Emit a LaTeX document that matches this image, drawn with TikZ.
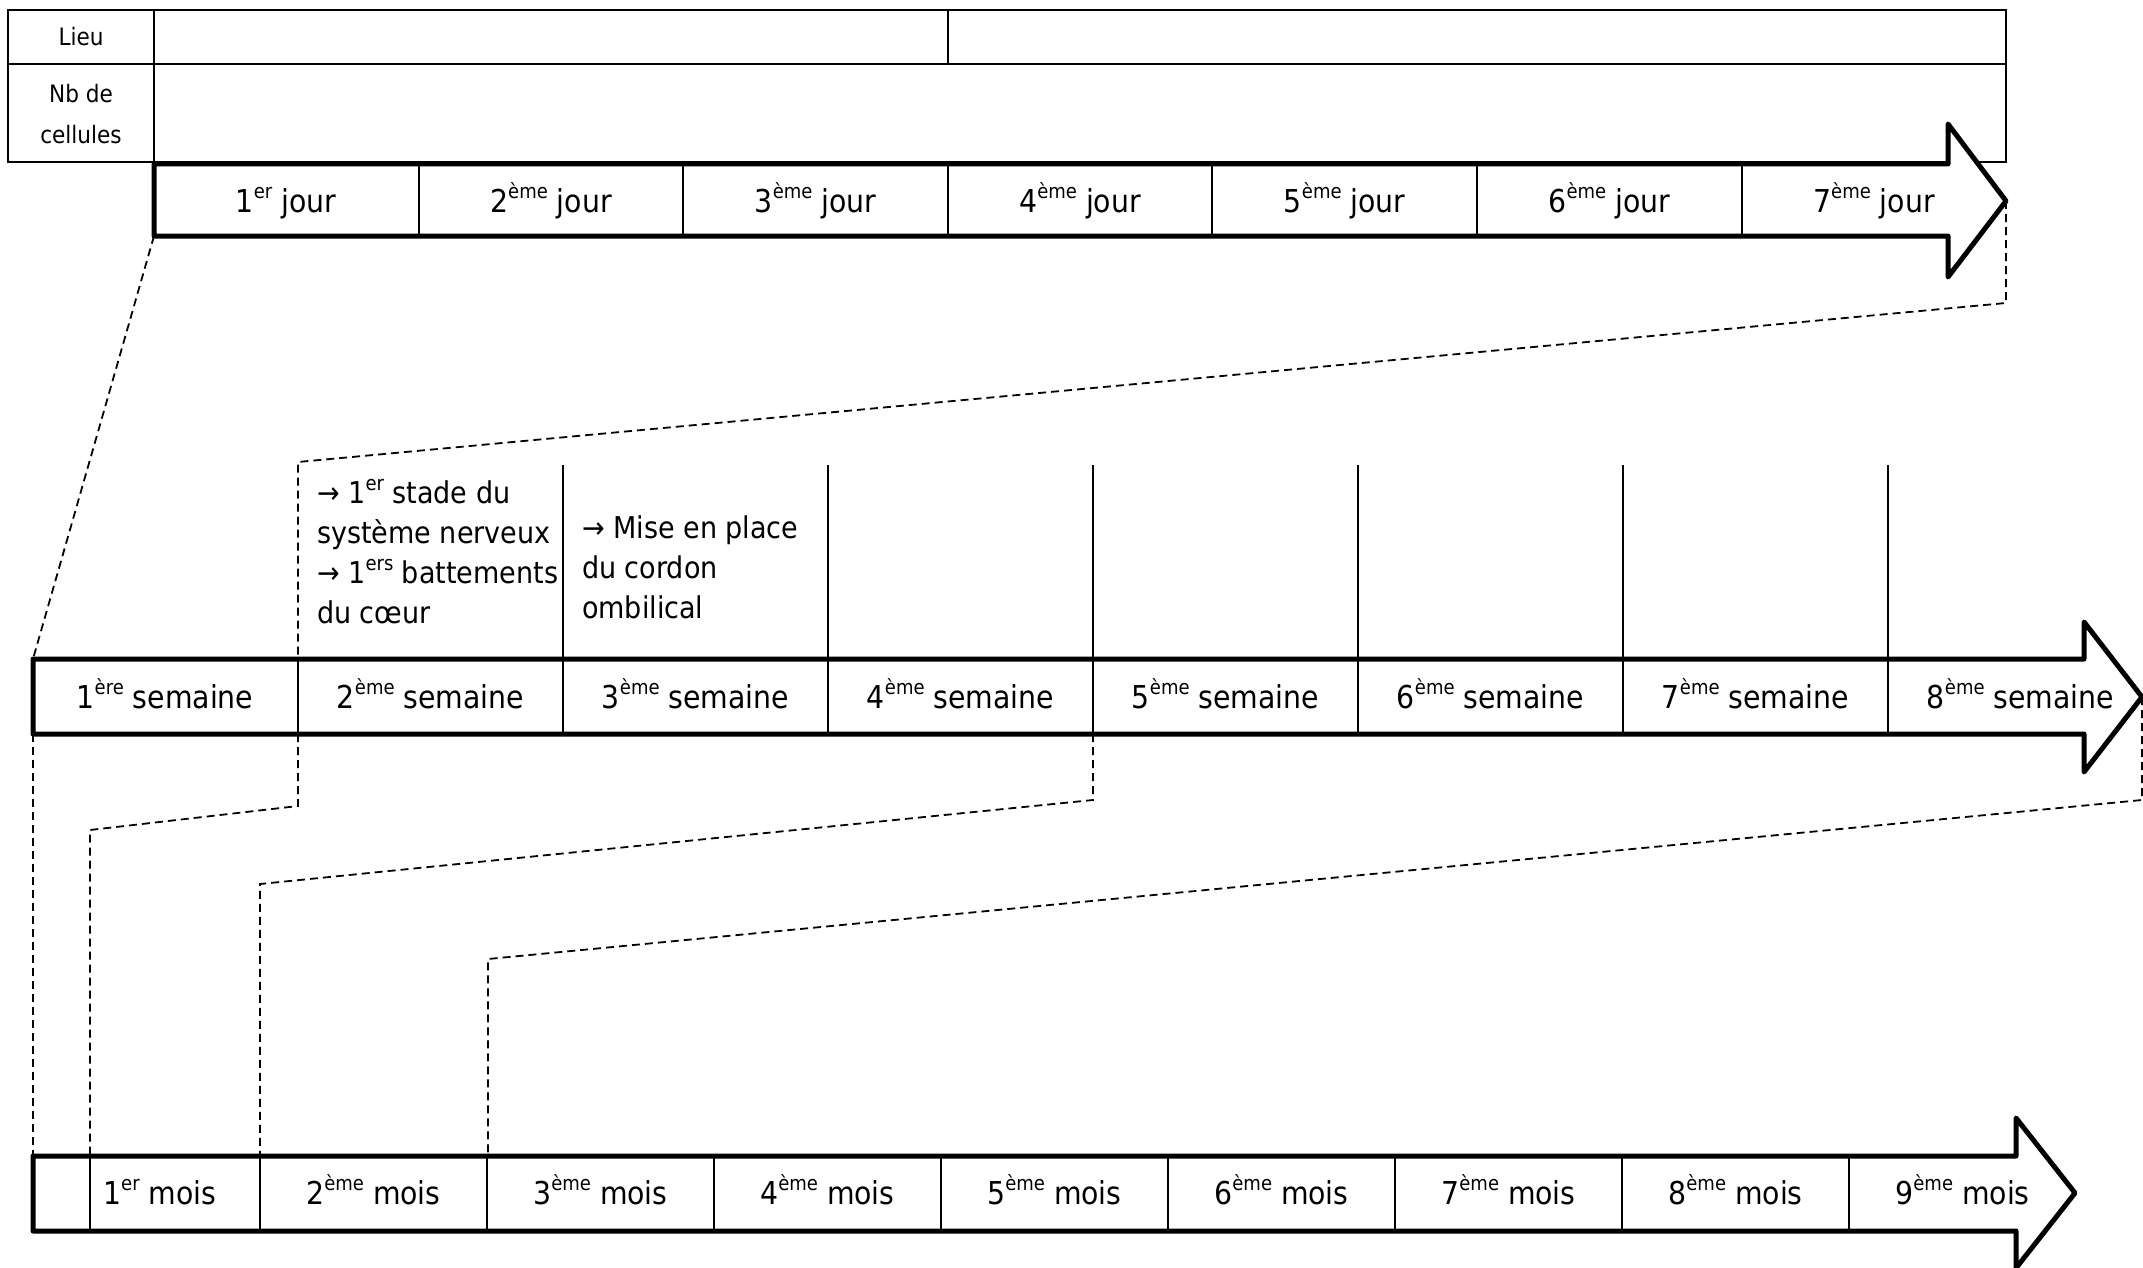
\documentclass[tikz,border=0pt]{standalone}
\usepackage{fontspec}
\setmainfont{DejaVu Sans Condensed}
\newcommand\supx[1]{\raisebox{0.42em}{\fontsize{20}{20}\selectfont #1}}
\begin{document}
\begin{tikzpicture}[x=1pt,y=-1pt,
  thickarrow/.style={line width=5pt,line join=round},
  thinline/.style={line width=2pt},
  conn/.style={line width=1.8pt,dash pattern=on 8pt off 5pt},
  lbl/.style={anchor=base,inner sep=0pt,font=\fontsize{31.5}{40}\selectfont},
  note/.style={anchor=base west,inner sep=0pt,font=\fontsize{30}{40}\selectfont},
  small/.style={anchor=base,inner sep=0pt,font=\fontsize{24}{30}\selectfont}]
\useasboundingbox (0,0) rectangle (2143,1268);
% ---- top table
\draw[thinline] (8,10) rectangle (2006,162);
\draw[thinline] (8,64) -- (2006,64);
\draw[thinline] (154,10) -- (154,162);
\draw[thinline] (948,10) -- (948,64);
\node[small] (lieu) at (81,46) {Lieu};
\node[small] (nb1) at (81,103) {Nb de};
\node[small] (nb2) at (81,144) {cellules};
% ---- arrows
\coordinate (dTL) at (154,164);
\coordinate (dBL) at (154,236);
\coordinate (dTip) at (2006,201);
\draw[thickarrow,fill=white] (dTL) -- (1948,164) -- (1948,124) -- (dTip) -- (1948,277) -- (1948,236) -- (dBL) -- cycle;
\coordinate (wTL) at (33,659);
\coordinate (wBL) at (33,734);
\coordinate (wTip) at (2142,697);
\draw[thickarrow] (wTL) -- (2084,659) -- (2084,622) -- (wTip) -- (2084,772) -- (2084,734) -- (wBL) -- cycle;
\coordinate (mTL) at (33,1156);
\coordinate (mBL) at (33,1231);
\draw[thickarrow] (mTL) -- (2016,1156) -- (2016,1118) -- (2075,1193) -- (2016,1268) -- (2016,1231) -- (mBL) -- cycle;
% ---- dividers
\foreach \i in {1,...,6} \draw[thinline] ({154+264.6*\i},164) -- ({154+264.6*\i},236);
\foreach \i in {1,...,7} \draw[thinline] ({33+265*\i},659) -- ({33+265*\i},734);
\foreach \i in {2,...,7} \draw[thinline] ({33+265*\i},465) -- ({33+265*\i},659);
\draw[thinline] (90,1156) -- (90,1231);
\foreach \i in {0,...,7} \draw[thinline] ({260+227*\i},1156) -- ({260+227*\i},1231);
% ---- day labels
\node[lbl] (d1) at (286,212) {1\supx{er} jour};
\foreach \i/\n in {2/2,3/3,4/4,5/5,6/6,7/7}
  \node[lbl] (d\i) at ({154+264.6*(\i-0.5)},212) {\n\supx{ème} jour};
% ---- week labels
\node[lbl] (w1) at (165,708) {1\supx{ère} semaine};
\foreach \i in {2,...,8}
  \node[lbl] (w\i) at ({33+265*(\i-0.5)},708) {\i\supx{ème} semaine};
% ---- month labels
\node[anchor=base west,inner sep=0pt,font=\fontsize{31.5}{40}\selectfont] (m1) at (103,1204) {1\supx{er} mois};
\foreach \i/\k in {2/0,3/1,4/2,5/3,6/4,7/5,8/6,9/7}
  \node[lbl] (m\i) at ({260+227*(\k+0.5)},1204) {\i\supx{ème} mois};
% ---- notes
\node[note] (n1) at (317,503) {→ 1\supx{er} stade du};
\node[note] (n2) at (317,543) {système nerveux};
\node[note] (n3) at (317,583) {→ 1\supx{ers} battements};
\node[note] (n4) at (317,623) {du cœur};
\node[note] (n5) at (582,538) {→ Mise en place};
\node[note] (n6) at (582,578) {du cordon};
\node[note] (n7) at (582,618) {ombilical};
% ---- dashed connectors
\coordinate (c2a) at (2006,303);
\coordinate (c2b) at (298,462);
\coordinate (c2c) at (298,659);
\draw[conn] (dBL) -- (wTL);
\draw[conn] (dTip) -- (c2a) -- (c2b) -- (c2c);
\draw[conn] (wBL) -- (mTL);
\coordinate (c4a) at (298,734);
\coordinate (c4b) at (298,806);
\coordinate (c4c) at (90,830);
\coordinate (c4d) at (90,1156);
\draw[conn] (c4a) -- (c4b) -- (c4c) -- (c4d);
\coordinate (c5a) at (1093,734);
\coordinate (c5b) at (1093,800);
\coordinate (c5c) at (260,884);
\coordinate (c5d) at (260,1156);
\draw[conn] (c5a) -- (c5b) -- (c5c) -- (c5d);
\coordinate (c6b) at (2142,800);
\coordinate (c6c) at (488,959);
\coordinate (c6d) at (488,1156);
\draw[conn] (wTip) -- (c6b) -- (c6c) -- (c6d);
\end{tikzpicture}
\end{document}
